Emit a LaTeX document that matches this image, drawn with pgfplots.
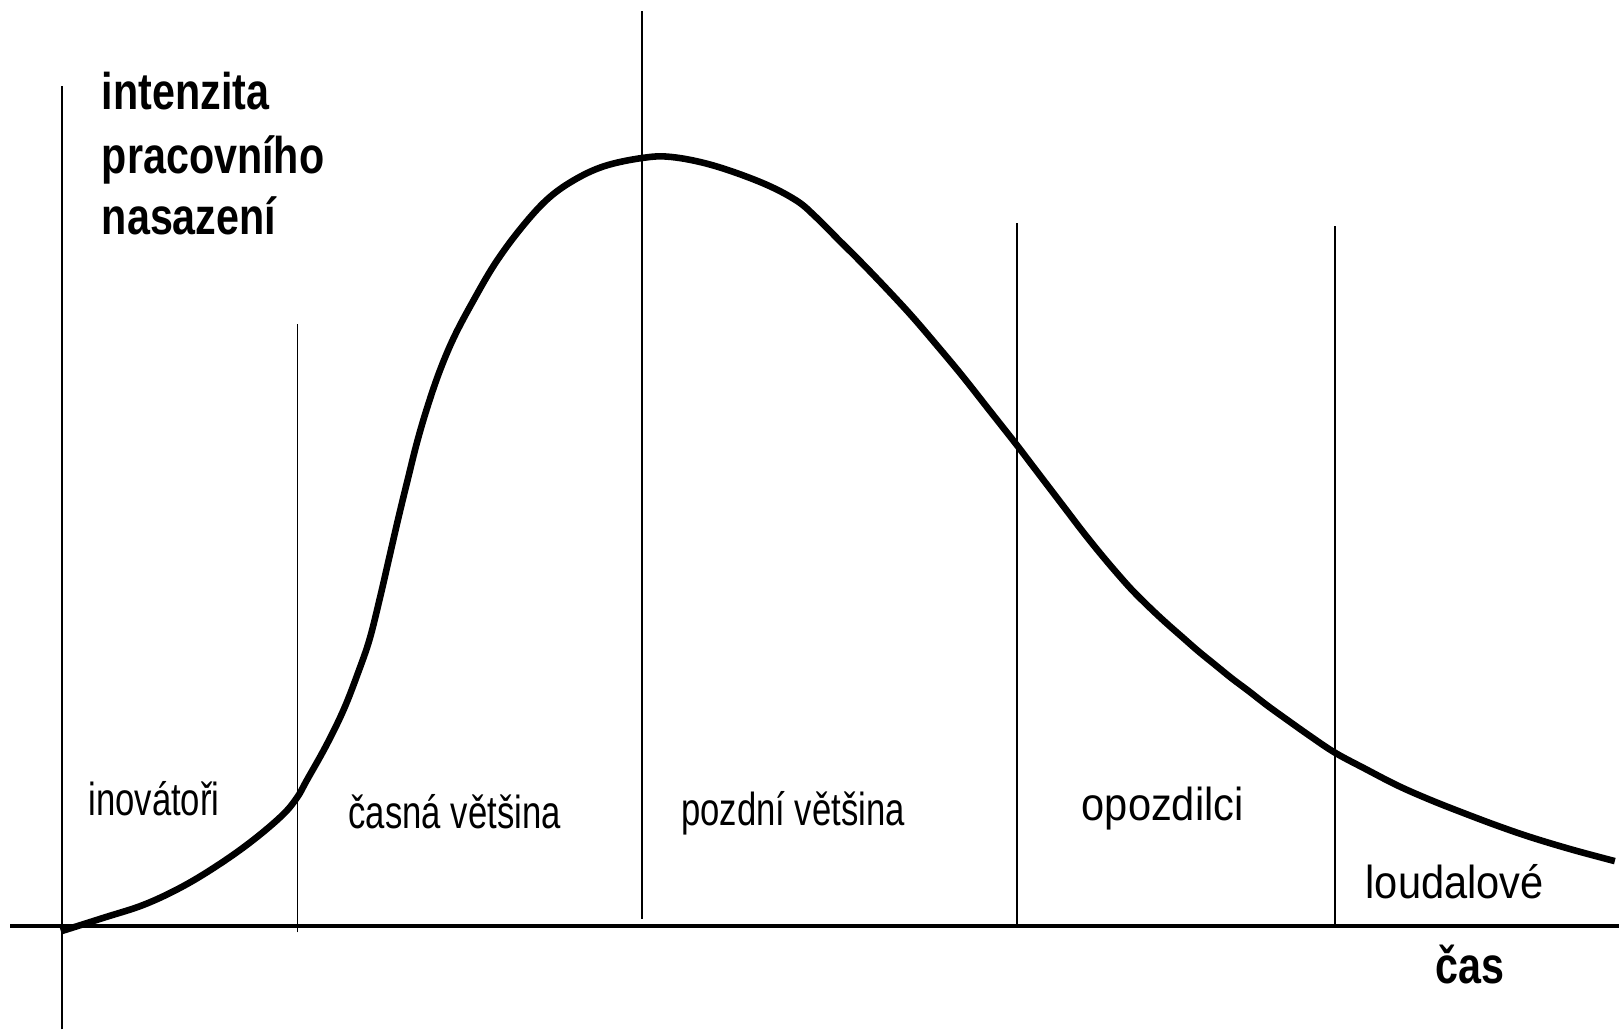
\documentclass[border=0pt]{standalone}
\usepackage{pgfplots}
\pgfplotsset{compat=1.18}
\usepackage{fontspec}
\setmainfont{Liberation Sans}
\newfontfamily\lblA{Liberation Sans}[FakeStretch=0.75]
\newfontfamily\lblB{Liberation Sans}[FakeStretch=0.9]
\newfontfamily\lblC{Liberation Sans}[FakeStretch=0.8]
\begin{document}
\begin{tikzpicture}
\begin{axis}[
  scale only axis, width=16cm, height=10.173cm,
  xmin=0, xmax=1568, ymin=0, ymax=997,
  y dir=reverse,
  hide axis, clip=false,
]
\path (rel axis cs:0,0) rectangle (rel axis cs:1,1);
% axes
\addplot[black, line width=1.15pt] coordinates {(10,897) (1568,897)};
\addplot[black, line width=0.5pt] coordinates {(60,997) (60,83)};
% dividers
\addplot[black, line width=0.45pt] coordinates {(288,903) (288,314)};
\addplot[black, line width=0.45pt] coordinates {(622,890) (622,11)};
\addplot[black, line width=0.45pt] coordinates {(985,897) (985,216)};
\addplot[black, line width=0.45pt] coordinates {(1293,897) (1293,219)};
% curve (display coordinates, y measured from top)
\addplot[black, line width=1.85pt, smooth, tension=0.6] coordinates {
(59,902) (100,889) (140,876) (178,858) (214,836) (246,813) (274,789)
(288,772) (297,756) (316,722) (333,687) (347,651) (358,619) (368,579)
(377,540) (386,501) (395,464) (404,428) (414,394) (426,359) (440,326)
(458,292) (479,256) (503,223) (529,194) (555,175) (585,161) (622,153)
(650,152) (690,160) (738,177) (771,194) (790,210) (812,232) (835,255)
(859,280) (883,306) (907,334) (932,364) (958,397) (984,430) (1000,451)
(1016,472) (1032,493) (1048,514) (1064,534) (1080,553) (1096,571)
(1112,587) (1128,602) (1145,617) (1161,631) (1177,644) (1193,657)
(1209,669) (1227,683) (1245,696) (1269,713) (1293,729) (1323,745)
(1354,761) (1386,775) (1419,788) (1451,800) (1483,811) (1523,823)
(1564,834)
};
% labels
\node[anchor=base west, inner sep=0, font=\lblC\bfseries\fontsize{14.5}{17}\selectfont] at (axis cs:98,106) {intenzita};
\node[anchor=base west, inner sep=0, font=\lblC\bfseries\fontsize{14.5}{17}\selectfont] at (axis cs:98,168) {pracovního};
\node[anchor=base west, inner sep=0, font=\lblC\bfseries\fontsize{14.5}{17}\selectfont] at (axis cs:98,227) {nasazení};
\node[anchor=base west, inner sep=0, font=\lblA\fontsize{13}{15}\selectfont] at (axis cs:85,790) {inovátoři};
\node[anchor=base west, inner sep=0, font=\lblA\fontsize{13}{15}\selectfont] at (axis cs:337,802) {časná většina};
\node[anchor=base west, inner sep=0, font=\lblA\fontsize{13}{15}\selectfont] at (axis cs:659,800) {pozdní většina};
\node[anchor=base west, inner sep=0, font=\lblB\fontsize{13}{15}\selectfont] at (axis cs:1047,795) {opozdilci};
\node[anchor=base west, inner sep=0, font=\lblB\fontsize{13}{15}\selectfont] at (axis cs:1322,870) {loudalové};
\node[anchor=base west, inner sep=0, font=\lblC\bfseries\fontsize{14.5}{17}\selectfont] at (axis cs:1390,953) {čas};
\end{axis}
\end{tikzpicture}
\end{document}
